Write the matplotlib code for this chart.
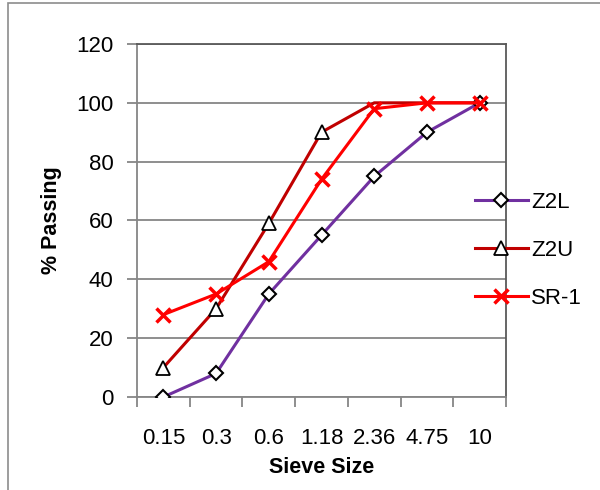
import matplotlib
matplotlib.use("Agg")
import matplotlib.pyplot as plt
from matplotlib.patches import Rectangle
import numpy as np

categories = ["0.15", "0.3", "0.6", "1.18", "2.36", "4.75", "10"]
z2l = [0, 8, 35, 55, 75, 90, 100]
z2u = [10, 30, 59, 90, 100, 100, 100]
sr1 = [28, 35, 46, 74, 98, 100, 100]
y_ticks = [0, 20, 40, 60, 80, 100, 120]

plt.rcParams['font.family'] = ['Liberation Sans', 'DejaVu Sans']

fig = plt.figure(figsize=(6, 4.9), dpi=100)
ax = fig.add_axes([137/600, 1-397/490, (506-137)/600, (397-44)/490])

fig.patches.append(Rectangle((8/600, -0.1), 1.2, 1.1 - 3/490, transform=fig.transFigure,
                             fill=False, edgecolor='#8c8c8c', linewidth=1.2))

x = np.arange(len(categories))
ax.plot(x, z2l, color='#7030A0', lw=2.2, marker='D', ms=7, mfc='white', mec='black', mew=1.5,
        label='Z2L', zorder=3)
ax.plot(x, z2u, color='#C00000', lw=2.2, marker='^', ms=10, mfc='white', mec='black', mew=1.3,
        markevery=[0, 1, 2, 3], label='Z2U', zorder=4)
ax.plot(x, sr1, color='#FF0000', lw=2.2, marker='x', ms=10, mec='#FF0000', mew=2.5,
        label='SR-1', zorder=5)

ax.set_xlim(-0.5, len(categories) - 0.5)
ax.set_ylim(0, 120)
ax.set_yticks(y_ticks)
ax.set_xticks(x)
ax.set_xticklabels(categories)
ax.set_xticks(np.arange(-0.5, len(categories)), minor=True)
ax.tick_params(axis='x', which='major', length=0, pad=22, labelsize=16)
ax.tick_params(axis='x', which='minor', length=7, width=1.3, color='#868686', direction='out')
ax.tick_params(axis='y', length=7, width=1.3, color='#868686', labelsize=16, pad=10)
ax.yaxis.grid(True, color='#868686', lw=1.3)
ax.set_axisbelow(True)
for s in ['left', 'bottom']:
    ax.spines[s].set_color('#868686')
    ax.spines[s].set_linewidth(1.3)
for s in ['top', 'right']:
    ax.spines[s].set_color('#595959')
    ax.spines[s].set_linewidth(1.3)

ax.set_xlabel('Sieve Size', fontsize=15.5, fontweight='bold', labelpad=6)
ax.set_ylabel('% Passing', fontsize=15.5, fontweight='bold', labelpad=10)

leg = ax.legend(loc='center left', bbox_to_anchor=(0.915, 0.415), frameon=False, fontsize=16,
                handlelength=2.4, labelspacing=1.22, handletextpad=0.15, borderaxespad=0,
                borderpad=0)

fig.savefig('out.png', dpi=100)
